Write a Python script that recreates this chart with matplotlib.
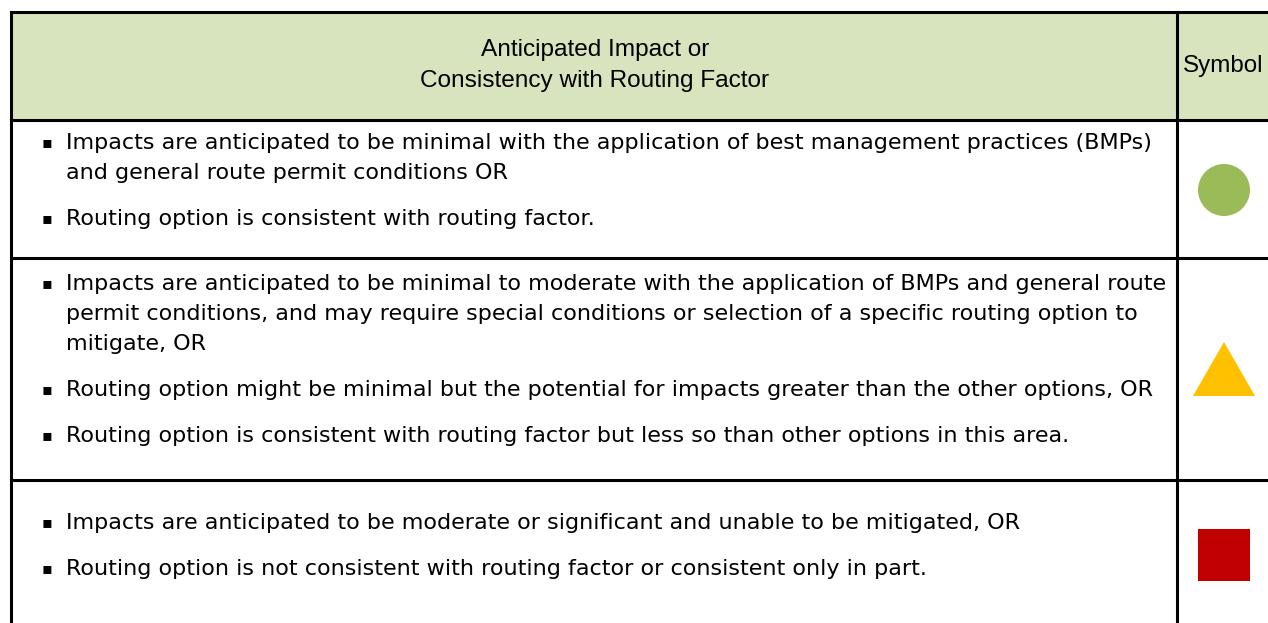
import matplotlib
matplotlib.use('Agg')
import matplotlib.pyplot as plt
from matplotlib.patches import Rectangle, Circle, Polygon

header_lines = ['Anticipated Impact or', 'Consistency with Routing Factor']
symbol_header = 'Symbol'

row1 = [
    ['Impacts are anticipated to be minimal with the application of best management practices (BMPs)',
     'and general route permit conditions OR'],
    ['Routing option is consistent with routing factor.'],
]
row2 = [
    ['Impacts are anticipated to be minimal to moderate with the application of BMPs and general route',
     'permit conditions, and may require special conditions or selection of a specific routing option to',
     'mitigate, OR'],
    ['Routing option might be minimal but the potential for impacts greater than the other options, OR'],
    ['Routing option is consistent with routing factor but less so than other options in this area.'],
]
row3 = [
    ['Impacts are anticipated to be moderate or significant and unable to be mitigated, OR'],
    ['Routing option is not consistent with routing factor or consistent only in part.'],
]
rows = [row1, row2, row3]
symbols = ['circle', 'triangle', 'square']
symbol_colors = ['#9BBB59', '#FFC000', '#C00000']

W, H = 1268, 623
fig = plt.figure(figsize=(W / 100, H / 100), dpi=100)
ax = fig.add_axes([0, 0, 1, 1])
ax.set_xlim(0, W)
ax.set_ylim(H, 0)
ax.axis('off')

left, right, top = 11, 1290, 12
col = 1177
row_edges = [120, 258, 480, 640]
lw = 2.2

# header
ax.add_patch(Rectangle((left, top), right - left, row_edges[0] - top,
                       facecolor='#D7E4BD', edgecolor='none'))
hfont = 'Liberation Sans'
ax.text((left + col) / 2 + 1, 50, header_lines[0], ha='center', va='center',
        fontsize=17.6, family=hfont)
ax.text((left + col) / 2 + 1, 81, header_lines[1], ha='center', va='center',
        fontsize=17.6, family=hfont)
ax.text(1223, 66, symbol_header, ha='center', va='center', fontsize=17.4, family=hfont)

# grid lines
ax.plot([left, right], [top, top], color='black', lw=lw)
ax.plot([left, left], [top, H + 5], color='black', lw=lw)
ax.plot([col, col], [top, H + 5], color='black', lw=lw)
for y in row_edges[:3]:
    ax.plot([left, right], [y, y], color='black', lw=lw)

# body text
bfont = 'DejaVu Sans'
starts = [143, 284, 523]
line_gap = 30
para_gap = 46
for r, paras in enumerate(rows):
    y = starts[r]
    for p in paras:
        ax.text(47, y, '\u25aa', ha='center', va='center', fontsize=11.5, family='DejaVu Sans')
        for i, line in enumerate(p):
            ax.text(66, y + i * line_gap, line, ha='left', va='center',
                    fontsize=16.05, family=bfont)
        y += (len(p) - 1) * line_gap + para_gap

# symbols
cx = 1224
centers = [(row_edges[0] + row_edges[1]) / 2 + 1, 370, 555]
for s, c, cy in zip(symbols, symbol_colors, centers):
    if s == 'circle':
        ax.add_patch(Circle((cx, cy), 26, color=c, lw=0))
    elif s == 'triangle':
        ax.add_patch(Polygon([(cx - 31, 396), (cx + 31, 396), (cx, 342)], color=c, lw=0))
    else:
        ax.add_patch(Rectangle((cx - 26, 529), 52, 52, color=c, lw=0))

fig.savefig('out.png', dpi=100)
